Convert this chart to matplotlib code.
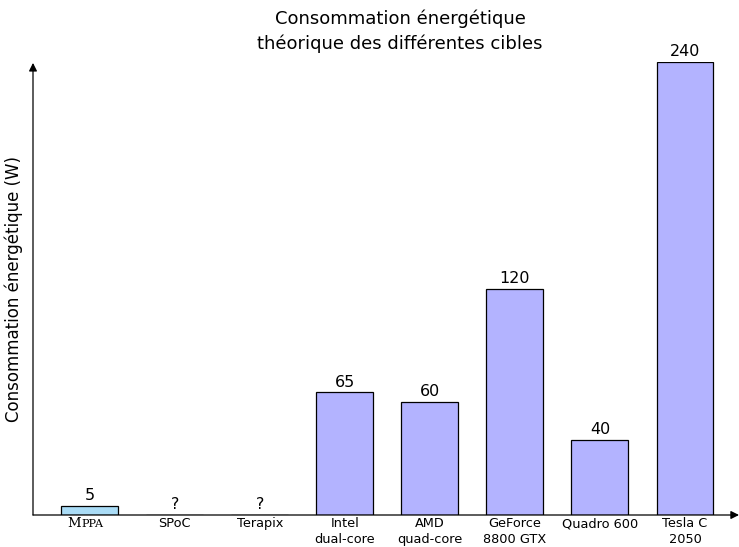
import matplotlib
matplotlib.use("Agg")
import matplotlib.pyplot as plt
import numpy as np
from matplotlib.transforms import offset_copy

categories = ["MPPA", "SPoC", "Terapix", "Intel\ndual-core", "AMD\nquad-core",
              "GeForce\n8800 GTX", "Quadro 600", "Tesla C\n2050"]
values = [5, np.nan, np.nan, 65, 60, 120, 40, 240]
value_labels = ["5", "?", "?", "65", "60", "120", "40", "240"]
bar_colors = ["#aadcf6", "#b3b3ff", "#b3b3ff", "#b3b3ff", "#b3b3ff", "#b3b3ff", "#b3b3ff", "#b3b3ff"]

W, H = 739, 547
fig = plt.figure(figsize=(W / 100, H / 100), dpi=100)
x0, x1 = 33, 739
yb, yt = 515, 62
ax = fig.add_axes([x0 / W, (H - yb) / H, (x1 - x0) / W, (yb - yt) / H])

x = np.arange(len(categories))
vals = np.nan_to_num(np.array(values, dtype=float))
bars = ax.bar(x, vals, width=0.67, color=bar_colors, edgecolor="black", linewidth=0.9, zorder=2)
for xi, v, lab in zip(x, vals, value_labels):
    ax.annotate(lab, (xi, v), xytext=(0, 2), textcoords="offset points",
                ha="center", va="bottom", fontsize=11.5, family="DejaVu Sans")

ax.set_xlim(-0.667, 7.635)
ax.set_ylim(0, 240)
for s in ax.spines.values():
    s.set_visible(False)
ax.set_yticks([])
ax.set_xticks(x)
labels = [""] + categories[1:]
ax.set_xticklabels(labels, fontsize=9.3, linespacing=1.25, va="top")
ax.tick_params(axis="x", length=0, pad=1.5)

# small caps MPPA label
trans = ax.get_xaxis_transform()
ax.text(0, -0.005, "M", transform=offset_copy(trans, fig=fig, x=-16, y=0, units="points"),
        ha="left", va="top", fontsize=9.5, family="DejaVu Serif")
ax.text(0, -0.008, "PPA", transform=offset_copy(trans, fig=fig, x=-5.8, y=0, units="points"),
        ha="left", va="top", fontsize=8, family="DejaVu Serif")

# axis arrows
ax.annotate("", xy=(1.0, 0), xytext=(0, 0), xycoords="axes fraction",
            arrowprops=dict(arrowstyle="-|>", color="black", lw=0.9, mutation_scale=12,
                            shrinkA=0, shrinkB=0), annotation_clip=False)
ax.annotate("", xy=(0, 0.998), xytext=(0, 0), xycoords="axes fraction",
            arrowprops=dict(arrowstyle="-|>", color="black", lw=0.9, mutation_scale=12,
                            shrinkA=0, shrinkB=0), annotation_clip=False)

ax.set_ylabel("Consommation énergétique (W)", fontsize=12, labelpad=7)
fig.text(400 / W, 1 - 31 / H, "Consommation énergétique\nthéorique des différentes cibles",
         ha="center", va="center", fontsize=13, linespacing=1.45)

fig.savefig("out.png", dpi=100)
